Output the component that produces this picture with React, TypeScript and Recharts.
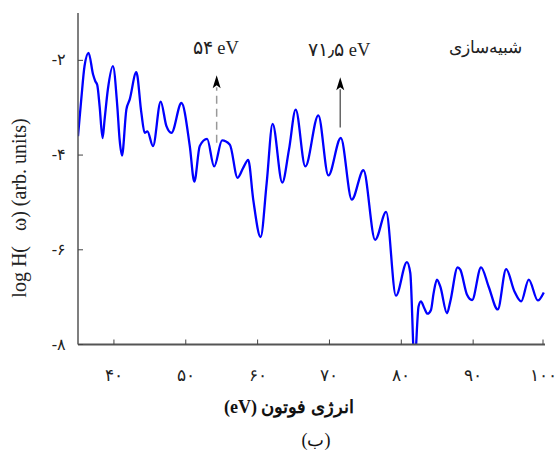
import React from "react";
import {
  LineChart,
  Line,
  XAxis,
  YAxis,
  ReferenceLine,
} from "recharts";

// photon energy (eV) and simulated log H(ω)
const energy = [
  35.0, 35.45, 35.91, 36.47, 37.1, 37.41, 37.68, 38.01, 38.42, 38.7, 39.16,
  39.86, 40.47, 40.79, 41.12, 41.73, 42.19, 43.12, 43.82, 44.28, 44.66, 45.44,
  46.51, 47.31, 48.01, 49.4, 50.56, 51.19, 51.95, 52.97, 53.95, 55.06, 56.14,
  57.21, 57.99, 58.69, 59.39, 60.42, 61.26, 62.09, 63.43, 64.37, 65.3, 66.64,
  68.45, 69.85, 71.58, 73.11, 74.73, 76.36, 77.89, 79.25, 80.78, 81.25, 81.84,
  82.4, 82.73, 83.19, 83.65, 84.13, 84.49, 84.96, 85.43, 86.36, 86.82, 87.84,
  88.21, 89.15, 89.85, 91.1, 92.16, 93.42, 94.59, 95.75, 96.68, 97.74, 99.0,
  99.83,
];
const logH = [
  -3.6, -2.83, -2.12, -1.84, -2.3, -2.44, -2.52, -2.97, -3.64, -3.25, -2.61,
  -2.12, -2.97, -3.67, -4.01, -3.04, -2.83, -2.25, -3.11, -3.53, -3.5, -3.81,
  -2.87, -3.39, -3.53, -2.9, -3.81, -4.56, -3.81, -3.66, -4.24, -3.69, -3.78,
  -4.48, -4.27, -4.1, -4.94, -5.73, -4.59, -3.34, -4.58, -3.88, -3.04, -4.24,
  -3.16, -4.43, -3.64, -4.94, -4.32, -5.79, -5.2, -6.97, -6.26, -6.49, -8.4,
  -7.2, -7.09, -7.23, -7.35, -7.27, -6.92, -6.63, -6.78, -7.34, -7.09, -6.37,
  -6.42, -6.95, -7.06, -6.37, -6.78, -7.26, -6.41, -6.88, -7.09, -6.63, -7.07,
  -6.9,
];
const xTicks = [40, 50, 60, 70, 80, 90, 100];
const yTicks = [-8, -6, -4, -2];

// marked peaks: [energy, line bottom, line top, label, dashed]
const marks: [number, number, number, string, boolean][] = [
  [54.3, -3.74, -2.57, "۵۴ eV", true],
  [71.5, -3.42, -2.61, "۷۱٫۵ eV", false],
];

const data = energy.map((e, i) => ({ e, v: logH[i] }));

const fa = (s: string) => s.replace(/\d/g, (d) => "۰۱۲۳۴۵۶۷۸۹"[+d]);

const SERIF = '"Liberation Serif", "DejaVu Serif", serif';
const TICK = "#444";

function BottomTick({ x, y, payload }: any) {
  return (
    <g>
      <line x1={x} x2={x} y1={y} y2={y - 5} stroke={TICK} strokeWidth={1} />
      <text x={x} y={y + 36} textAnchor="middle" fontSize={16.5} fill="#222" fontFamily={SERIF}>
        {fa(String(payload.value))}
      </text>
    </g>
  );
}

function TopTick({ x, y }: any) {
  return <line x1={x} x2={x} y1={y} y2={y + 5} stroke={TICK} strokeWidth={1} />;
}

function LeftTick({ x, y, payload }: any) {
  return (
    <g>
      <line x1={x} x2={x + 5} y1={y} y2={y} stroke={TICK} strokeWidth={1} />
      <text x={x - 12} y={y + 5} textAnchor="end" fontSize={16} fill="#222" fontFamily={SERIF}>
        {"-" + fa(String(Math.abs(payload.value)))}
      </text>
    </g>
  );
}

function RightTick({ x, y }: any) {
  return <line x1={x - 5} x2={x} y1={y} y2={y} stroke={TICK} strokeWidth={1} />;
}

function arrowLabel(text: string) {
  return (props: any) => {
    const vb = props.viewBox;
    if (!vb) return null;
    const cx = vb.x;
    const top = vb.y;
    return (
      <g>
        <polygon
          points={`${cx},${top - 12} ${cx - 4},${top + 1} ${cx},${top - 2} ${cx + 4},${top + 1}`}
          fill="#000"
        />
        <text x={cx - 1} y={top - 33} textAnchor="middle" fontSize={18.5} fill="#222" fontFamily={SERIF}>
          {text}
        </text>
      </g>
    );
  };
}

export default function App() {
  return (
    <div style={{ position: "absolute", left: 0, top: 0, width: 555, height: 457, background: "#fff" }}>
      <LineChart
        width={555}
        height={457}
        data={data}
        margin={{ top: 13, right: 10, bottom: 0, left: 0 }}
      >
        <XAxis
          xAxisId="b"
          dataKey="e"
          type="number"
          domain={[35, 100]}
          ticks={xTicks}
          allowDataOverflow
          height={112.5}
          tickSize={0}
          tickMargin={0}
          tickLine={false}
          axisLine={{ stroke: "#555", strokeWidth: 2 }}
          tick={<BottomTick />}
        />
        <XAxis
          xAxisId="t"
          orientation="top"
          dataKey="e"
          type="number"
          domain={[35, 100]}
          ticks={xTicks}
          allowDataOverflow
          height={0}
          tickSize={0}
          tickMargin={0}
          tickLine={false}
          axisLine={{ stroke: "#555", strokeWidth: 1.5 }}
          tick={<TopTick />}
        />
        <YAxis
          yAxisId="l"
          type="number"
          domain={[-8, -1]}
          ticks={yTicks}
          allowDataOverflow
          width={78}
          tickSize={0}
          tickMargin={0}
          tickLine={false}
          axisLine={{ stroke: "#555", strokeWidth: 1.5 }}
          tick={<LeftTick />}
        />
        <YAxis
          yAxisId="r"
          orientation="right"
          type="number"
          domain={[-8, -1]}
          ticks={yTicks}
          allowDataOverflow
          width={0}
          tickSize={0}
          tickMargin={0}
          tickLine={false}
          axisLine={{ stroke: "#555", strokeWidth: 1.5 }}
          tick={<RightTick />}
        />
        <Line
          xAxisId="b"
          yAxisId="l"
          dataKey="v"
          type="monotone"
          stroke="#0000ff"
          strokeWidth={2.3}
          dot={false}
          isAnimationActive={false}
        />
        {marks.map(([e, y1, y2, label, dashed]) => (
          <ReferenceLine
            key={label}
            xAxisId="b"
            yAxisId="l"
            segment={[
              { x: e, y: y1 },
              { x: e, y: y2 },
            ]}
            stroke={dashed ? "#999" : "#666"}
            strokeWidth={1.5}
            strokeDasharray={dashed ? "8 5" : undefined}
            label={arrowLabel(label)}
          />
        ))}
      </LineChart>

      <div
        style={{
          position: "absolute",
          left: 430,
          top: 36,
          width: 110,
          textAlign: "center",
          fontFamily: SERIF,
          fontSize: 17,
          lineHeight: "24px",
          color: "#222",
        }}
        dir="rtl"
      >
        شبیه‌سازی
      </div>
      <div
        style={{
          position: "absolute",
          left: 189,
          top: 394,
          width: 200,
          textAlign: "center",
          fontFamily: SERIF,
          fontSize: 18,
          fontWeight: "bold",
          lineHeight: "26px",
          color: "#111",
        }}
        dir="rtl"
      >
        انرژی فوتون (eV)
      </div>
      <div
        style={{
          position: "absolute",
          left: 266,
          top: 427,
          width: 100,
          textAlign: "center",
          fontFamily: SERIF,
          fontSize: 18,
          lineHeight: "26px",
          color: "#111",
        }}
        dir="rtl"
      >
        (ب)
      </div>
      <div
        style={{
          position: "absolute",
          left: 19 - 130,
          top: 208 - 13,
          width: 260,
          textAlign: "center",
          fontFamily: SERIF,
          fontSize: 20,
          lineHeight: "26px",
          color: "#222",
          transform: "rotate(-90deg)",
          whiteSpace: "pre",
        }}
      >
        {"log H(\u00a0\u00a0\u00a0ω) (arb. units)"}
      </div>
    </div>
  );
}
